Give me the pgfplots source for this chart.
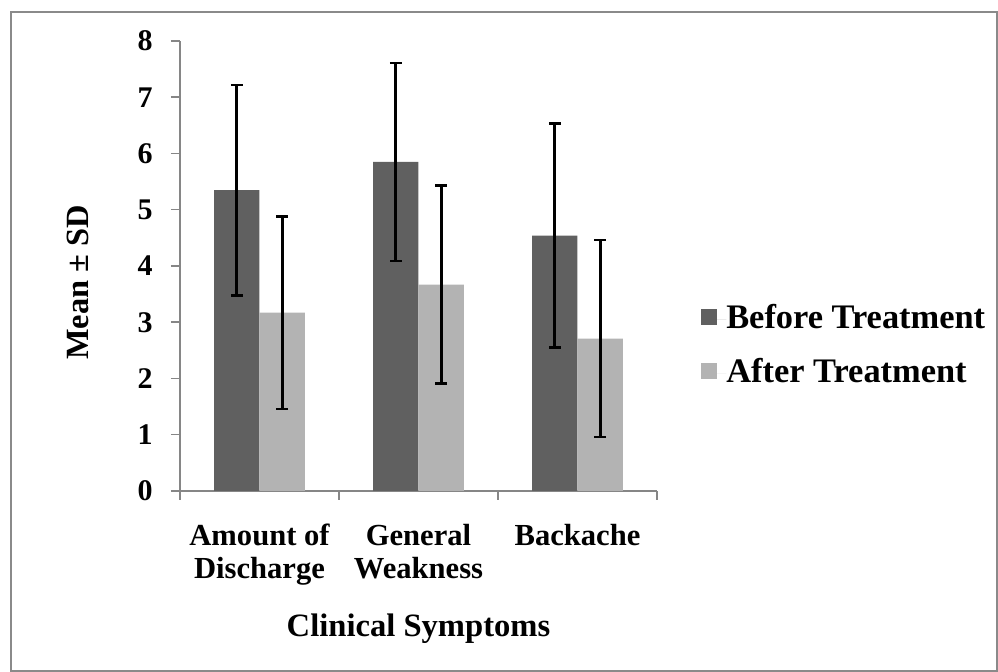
\documentclass[border=0pt]{standalone}
\usepackage{pgfplots}
\pgfplotsset{compat=1.18}
\usepackage{fontspec}
\setmainfont{Liberation Serif}
\definecolor{beforec}{HTML}{606060}
\definecolor{afterc}{HTML}{B3B3B3}
\definecolor{axisc}{HTML}{868686}
\definecolor{framec}{HTML}{8A8A8A}
\begin{document}
\begin{tikzpicture}
	\useasboundingbox (0,0) rectangle (499pt,336pt);
	\draw[framec, line width=1pt] (5.5pt,0.5pt) rectangle (498.5pt,330pt);
	\begin{axis}[
		at={(90pt,90.5pt)}, anchor=south west,
		scale only axis,
		width=238.5pt, height=225pt,
		font=\bfseries,
		/pgf/number format/assume math mode=true,
		axis x line*=bottom, axis y line*=left,
		axis line style={axisc, line width=0.75pt},
		xmin=-0.5, xmax=2.5, ymin=0, ymax=8,
		enlargelimits=false,
		ytick={0,1,...,8},
		xtick={-0.5,0.5,1.5,2.5},
		x tick label as interval,
		xticklabels={Amount of\\Discharge, General\\Weakness, Backache},
		tick align=outside,
		major tick length=4.5pt,
		tick style={axisc, line width=0.75pt},
		yticklabel style={font=\fontsize{15}{16}\bfseries, inner sep=0pt, xshift=-9pt},
		xticklabel style={font=\fontsize{15.3}{16.5}\bfseries, align=center, inner sep=0pt, anchor=north, yshift=-12pt},
		xlabel={Clinical Symptoms},
		xlabel style={font=\fontsize{16.3}{18}\bfseries, at={(axis description cs:0.5,0)}, anchor=base, yshift=-73pt},
		ylabel={Mean ± SD},
		ylabel style={font=\fontsize{16.2}{18}\bfseries, at={(axis description cs:-0.2138,0.463)}, anchor=center},
		ybar=0pt,
		bar width=0.2857,
		legend style={at={(axis description cs:1.092,0.32)}, anchor=west, draw=none, fill=none,
			inner sep=0pt, row sep=12pt,
			font=\fontsize{17.2}{19}\bfseries,
			nodes={inner sep=0pt, text height=12pt, text depth=3pt}},
		legend cell align=left,
		legend image code/.code={\fill[#1] (0pt,-2.5pt) rectangle (8pt,5.5pt); \path (0pt,0pt) -- (12.5pt,0pt);},
		error bars/error bar style={black, line width=1.35pt},
		error bars/error mark options={black, line width=1.35pt, mark size=3pt, rotate=90},
	]
		\addplot[fill=beforec, draw=none, bar shift=-0.14285,
			error bars/.cd, y dir=both, y explicit]
			table[x=x, y=y, y error=e] {
				x y e
				0 5.35 1.87
				1 5.85 1.76
				2 4.54 1.99
			};
		\addplot[fill=afterc, draw=none, bar shift=0.14285,
			error bars/.cd, y dir=both, y explicit]
			table[x=x, y=y, y error=e] {
				x y e
				0 3.17 1.71
				1 3.67 1.76
				2 2.71 1.75
			};
		\legend{Before Treatment, After Treatment}
	\end{axis}
\end{tikzpicture}
\end{document}
